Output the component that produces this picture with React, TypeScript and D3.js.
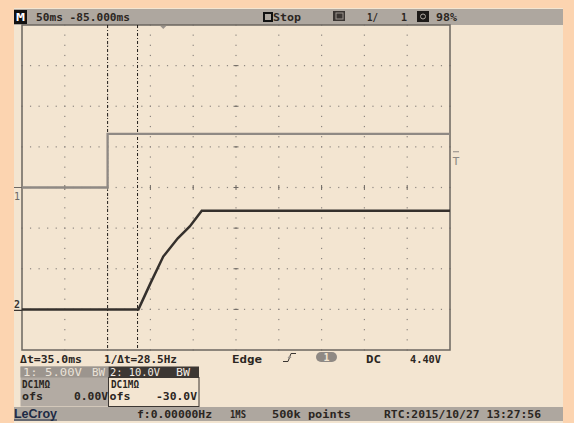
import * as d3 from 'd3';

// Screen: 10 x 8 divisions, 50 ms/div
const timebaseMs = 50;
const hDivs = 10;
const vDivs = 8;

// Channel 1 (5 V/div, ofs 0 V) — gray trace
const ch1Times = [0, 100, 100, 500];
const ch1Volts = [0, 0, 6.6, 6.6];
const ch1VoltsPerDiv = 5;
const ch1Offset = 0;

// Channel 2 (10 V/div, ofs -30 V) — dark trace
const ch2Times = [0, 136, 150, 165, 182, 196, 210, 500];
const ch2Volts = [0, 0, 6.4, 13.0, 17.5, 20.4, 24.3, 24.3];
const ch2VoltsPerDiv = 10;
const ch2Offset = -30;

// Cursors and trigger
const cursorTimes = [100, 135];
const triggerTime = 165;
const triggerLevel = 4.4;

const W = 574;
const H = 423;
const grid = { left: 22, right: 450, top: 25, bottom: 350 };

const MONO = '"DejaVu Sans Mono", "Liberation Mono", monospace';
const INK = '#2b2622';

export default function App() {
  const x = d3.scaleLinear().domain([0, timebaseMs * hDivs]).range([grid.left, grid.right]);
  const yDiv = d3.scaleLinear().domain([-vDivs / 2, vDivs / 2]).range([grid.bottom, grid.top]);
  const y1 = (v: number) => yDiv((v + ch1Offset) / ch1VoltsPerDiv);
  const y2 = (v: number) => yDiv((v + ch2Offset) / ch2VoltsPerDiv);

  const line1 = d3.line<number>().x((_, i) => x(ch1Times[i])).y(v => y1(v));
  const line2 = d3.line<number>().x((_, i) => x(ch2Times[i])).y(v => y2(v));

  const divW = (grid.right - grid.left) / hDivs;
  const divH = (grid.bottom - grid.top) / vDivs;
  const cx = (grid.left + grid.right) / 2;
  const cy = (grid.top + grid.bottom) / 2;

  // dotted graticule
  const dots: [number, number][] = [];
  d3.range(1, vDivs).forEach(j => {
    const yy = grid.top + j * divH;
    d3.range(0, hDivs * 5 + 1).forEach(k => dots.push([grid.left + (k * divW) / 5, yy]));
  });
  d3.range(1, hDivs).forEach(i => {
    const xx = grid.left + i * divW;
    d3.range(0, vDivs * 4 + 1).forEach(k => dots.push([xx, grid.top + (k * divH) / 4]));
  });

  const txt = (s: string, xx: number, yy: number, len?: number, fill = INK, extra: any = {}) => (
    <text
      x={xx}
      y={yy}
      fontFamily={MONO}
      fontSize={11}
      fontWeight="bold"
      fill={fill}
      {...(len ? { textLength: len, lengthAdjust: 'spacingAndGlyphs' } : {})}
      {...extra}
    >
      {s}
    </text>
  );
  const small = { fontSize: 10 };

  return (
    <svg width={W} height={H} style={{ position: 'fixed', left: 0, top: 0 }}>
      <rect x={0} y={0} width={W} height={H} fill="#fcd4b0" />
      <rect x={14} y={8} width={549} height={415} fill="#f3e5d1" />

      {/* top status bar */}
      <rect x={14} y={9} width={549} height={16} fill="#aea79f" />
      <rect x={14} y={10} width={13} height={14} fill="#111" />
      {txt('M', 16, 21, 9, '#fff')}
      {txt('50ms -85.000ms', 36, 21, 94)}
      <rect x={264} y={13} width={8} height={8} fill="none" stroke="#111" strokeWidth={2} />
      {txt('Stop', 273, 21, 28)}
      <rect x={333} y={11} width={12} height={10} fill="#3a3532" />
      <rect x={336} y={13} width={7} height={6} fill="none" stroke="#9a938c" strokeWidth={1} />
      {txt('1/', 367, 21, 11)}
      {txt('1', 401, 21, 6)}
      <rect x={417} y={11} width={12} height={11} fill="#1d1a18" />
      <circle cx={423} cy={16.5} r={2.5} fill="none" stroke="#aea79f" strokeWidth={1} />
      {txt('98%', 436, 21, 21)}

      {/* graticule */}
      {dots.map(([dx, dy], i) => (
        <rect key={i} x={dx - 0.6} y={dy - 0.6} width={1.2} height={1.2} fill="#8e8781" />
      ))}
      {d3.range(1, hDivs).map(i => (
        <line key={'ht' + i} x1={grid.left + i * divW} x2={grid.left + i * divW} y1={cy - 2.5} y2={cy + 2.5} stroke="#6e6863" strokeWidth={1} />
      ))}
      {d3.range(1, vDivs).map(j => (
        <line key={'vt' + j} x1={cx - 2.5} x2={cx + 2.5} y1={grid.top + j * divH} y2={grid.top + j * divH} stroke="#6e6863" strokeWidth={1} />
      ))}
      <rect x={grid.left} y={grid.top} width={grid.right - grid.left} height={grid.bottom - grid.top} fill="none" stroke="#6b655f" strokeWidth={1.5} />

      {/* trigger position marker */}
      <path d={`M${x(triggerTime) - 3},${grid.top + 1}L${x(triggerTime) + 3},${grid.top + 1}L${x(triggerTime)},${grid.top + 4}Z`} fill="#9a938c" />

      {/* cursors */}
      {cursorTimes.map((t, i) => (
        <line key={'c' + i} x1={x(t)} x2={x(t)} y1={grid.top} y2={grid.bottom} stroke="#1e1a17" strokeWidth={1} strokeDasharray="3,2,1,2" />
      ))}

      {/* traces */}
      <path d={line1(ch1Volts) || ''} fill="none" stroke="#8f8984" strokeWidth={2.3} />
      <path d={line2(ch2Volts) || ''} fill="none" stroke="#35302c" strokeWidth={2.5} />

      {/* channel ground markers */}
      <line x1={14} x2={grid.left} y1={y1(0)} y2={y1(0)} stroke="#6e6863" strokeWidth={1} />
      {txt('1', 14, 200, 6, '#6e6863', { fontWeight: 'normal' })}
      <line x1={14} x2={grid.left} y1={y2(0) + 1} y2={y2(0) + 1} stroke="#3a3532" strokeWidth={1.2} />
      {txt('2', 14, 308, 6, '#3a3532')}

      {/* trigger level marker */}
      <line x1={453} x2={459} y1={y1(triggerLevel)} y2={y1(triggerLevel)} stroke="#8f8984" strokeWidth={1} />
      {txt('T', 452.5, 165, 7, '#8f8984', { fontWeight: 'normal' })}

      {/* measurement row */}
      {txt('Δt=35.0ms', 20, 362.5, 62)}
      {txt('1/Δt=28.5Hz', 104, 362.5, 73)}
      {txt('Edge', 232, 362.5, 30)}
      <path d="M283,361.5H288L291,353.5H296" fill="none" stroke="#3a3532" strokeWidth={1} />
      <path d="M287.5,358L289.5,355.5L291.5,358" fill="#9a938c" />
      <rect x={316} y={352} width={21} height={10} rx={5} fill="#8f8984" />
      {txt('1', 323.5, 361, 6, '#f3e5d1')}
      {txt('DC', 366, 362.5, 15)}
      {txt('4.40V', 410, 362.5, 31)}

      {/* channel boxes */}
      <rect x={20.5} y={366.5} width={88} height={40} fill="#b3aba3" />
      <rect x={20.5} y={366.5} width={88} height={11} fill="#9c958e" />
      {txt('1: 5.00V', 23, 375.5, 59, '#ebe3d8', { ...small, fontWeight: 'normal' })}
      {txt('BW', 92, 375.5, 13, '#ebe3d8', { ...small, fontWeight: 'normal' })}
      <rect x={108.5} y={366.5} width={90.5} height={11} fill="#3c3733" />
      {txt('2: 10.0V', 110, 375.5, 50, '#f4ede4', { ...small, fontWeight: 'normal' })}
      {txt('BW', 176, 375.5, 14, '#f4ede4', { ...small, fontWeight: 'normal' })}
      <rect x={108.5} y={377.5} width={90.5} height={29} fill="none" stroke="#3c3733" strokeWidth={1} />
      {txt('DC1MΩ', 22, 388, 28, INK, small)}
      {txt('ofs', 22, 400, 21, INK, small)}
      {txt('0.00V', 74, 400, 34, INK, small)}
      {txt('DC1MΩ', 111, 388, 28, INK, small)}
      {txt('ofs', 109.5, 400, 21, INK, small)}
      {txt('-30.0V', 156, 400, 41, INK, small)}

      {/* bottom status bar */}
      <rect x={14} y={407} width={549} height={14} fill="#aea79f" />
      <text x={14} y={418} fontFamily='"Liberation Sans", Arial, sans-serif' fontSize={13} fontWeight="bold" fill="#1d2a44" textLength={43} lengthAdjust="spacingAndGlyphs">LeCroy</text>
      <line x1={14} x2={57} y1={420} y2={420} stroke="#1d2a44" strokeWidth={1.2} />
      {txt('f:0.00000Hz', 137, 418, 75)}
      {txt('1MS', 230, 418, 16)}
      {txt('500k points', 272, 418, 79)}
      {txt('RTC:2015/10/27 13:27:56', 384, 418, 157)}
    </svg>
  );
}
